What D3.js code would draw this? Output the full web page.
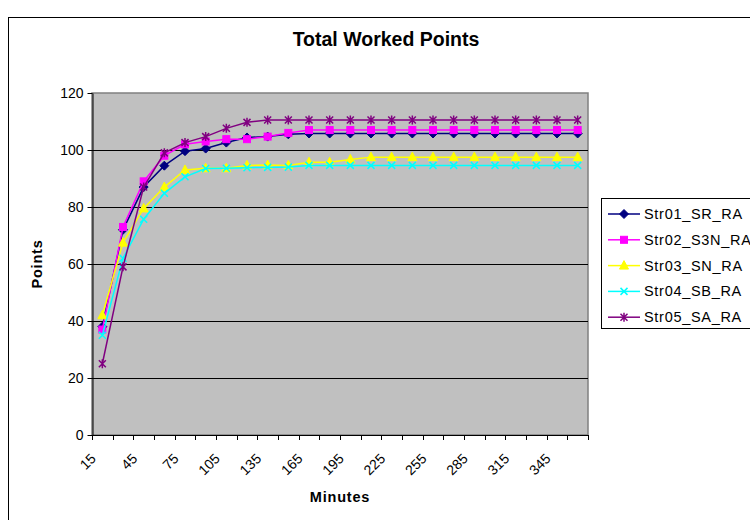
<!DOCTYPE html>
<html>
<head>
<meta charset="utf-8">
<script src="https://cdn.jsdelivr.net/npm/d3@7"></script>
<style>
  body { margin: 0; background: #fff; }
  text { font-family: "Liberation Sans", Arial, sans-serif; }
</style>
</head>
<body>
<svg id="chart" width="750" height="520"></svg>
<script>
var minutes = [15, 30, 45, 60, 75, 90, 105, 120, 135, 150, 165, 180,
  195, 210, 225, 240, 255, 270, 285, 300, 315, 330, 345, 360];
var yTicks = [0, 20, 40, 60, 80, 100, 120];

var str01 = [38, 72, 87, 94.5, 99.6, 100.5, 102.6, 104.4, 104.7, 105.5, 105.8, 105.8,
  105.8, 105.8, 105.8, 105.8, 105.8, 105.8, 105.8, 105.8, 105.8, 105.8, 105.8, 105.8];
var str02 = [37, 73, 89, 98, 102, 103, 103.8, 103.8, 104.7, 106, 107, 107,
  107, 107, 107, 107, 107, 107, 107, 107, 107, 107, 107, 107];
var str03 = [42, 67.5, 79.5, 87, 93, 93.6, 93.6, 94.6, 94.7, 94.6, 95.7, 95.7,
  96.7, 97.5, 97.5, 97.5, 97.5, 97.5, 97.5, 97.5, 97.5, 97.5, 97.5, 97.5];
var str04 = [35, 62, 75.7, 84.8, 90.6, 93.5, 93.6, 93.8, 93.9, 94, 94.6, 94.6,
  94.6, 94.6, 94.6, 94.6, 94.6, 94.6, 94.6, 94.6, 94.6, 94.6, 94.6, 94.6];
var str05 = [25, 59, 87, 99, 102.6, 104.7, 107.6, 109.7, 110.5, 110.5, 110.5, 110.5,
  110.5, 110.5, 110.5, 110.5, 110.5, 110.5, 110.5, 110.5, 110.5, 110.5, 110.5, 110.5];

var series = [
  { name: "Str01_SR_RA", values: str01, color: "#000080", marker: "diamond" },
  { name: "Str02_S3N_RA", values: str02, color: "#FF00FF", marker: "square" },
  { name: "Str03_SN_RA", values: str03, color: "#FFFF00", marker: "triangle" },
  { name: "Str04_SB_RA", values: str04, color: "#00FFFF", marker: "cross" },
  { name: "Str05_SA_RA", values: str05, color: "#800080", marker: "star" }
];

var svg = d3.select("#chart");
var plot = { left: 92, right: 588, top: 93, bottom: 435 };

// chart area border
svg.append("rect")
  .attr("x", 8.5).attr("y", 17.5)
  .attr("width", 760).attr("height", 520)
  .attr("fill", "#fff").attr("stroke", "#000");

var x = d3.scaleBand().domain(minutes).range([plot.left, plot.right]);
var y = d3.scaleLinear().domain([0, 120]).range([plot.bottom, plot.top]);

svg.append("rect")
  .attr("x", plot.left).attr("y", plot.top)
  .attr("width", plot.right - plot.left).attr("height", plot.bottom - plot.top)
  .attr("fill", "#C0C0C0").attr("stroke", "#808080").attr("stroke-width", 1.5);

// gridlines
svg.append("g").selectAll("line")
  .data(yTicks.filter(d => d > 0 && d < 120))
  .join("line")
  .attr("x1", plot.left).attr("x2", plot.right)
  .attr("y1", d => Math.round(y(d)) + 0.5).attr("y2", d => Math.round(y(d)) + 0.5)
  .attr("stroke", "#000").attr("stroke-width", 1);

// y axis
var yAxis = svg.append("g")
  .attr("transform", "translate(" + (plot.left + 0.5) + ",0)")
  .call(d3.axisLeft(y).tickValues(yTicks).tickSize(5).tickSizeOuter(0));
yAxis.select(".domain").attr("stroke", "#000");
yAxis.selectAll(".tick line").attr("stroke", "#000");
yAxis.selectAll(".tick text")
  .attr("font-size", 14).attr("fill", "#000").attr("x", -9)
  .style("font-family", "Liberation Sans, Arial, sans-serif");

// x axis (ticks between categories)
var xAxisG = svg.append("g");
xAxisG.append("line")
  .attr("x1", plot.left).attr("x2", plot.right)
  .attr("y1", plot.bottom + 0.5).attr("y2", plot.bottom + 0.5)
  .attr("stroke", "#000");
var edges = minutes.map(m => x(m)).concat([plot.right]);
xAxisG.selectAll(".xt")
  .data(edges)
  .join("line")
  .attr("x1", d => Math.round(d) + 0.5).attr("x2", d => Math.round(d) + 0.5)
  .attr("y1", plot.bottom).attr("y2", plot.bottom + 5)
  .attr("stroke", "#000");
xAxisG.selectAll(".xl")
  .data(minutes.filter((m, i) => i % 2 === 0))
  .join("text")
  .attr("transform", d => "translate(" + (x(d) + x.bandwidth() / 2 - 9) + "," + (plot.bottom + 21) + ") rotate(-45)")
  .attr("text-anchor", "end")
  .attr("dy", "0.35em")
  .attr("font-size", 14)
  .text(d => d);

// lines
var line = d3.line()
  .x((d, i) => x(minutes[i]) + x.bandwidth() / 2)
  .y(d => y(d));

function drawMarker(g, type, color) {
  if (type === "diamond") {
    g.append("path").attr("d", "M0,-4.5L4.5,0L0,4.5L-4.5,0Z").attr("fill", color).attr("stroke", color);
  } else if (type === "square") {
    g.append("rect").attr("x", -3.5).attr("y", -3.5).attr("width", 7).attr("height", 7)
      .attr("fill", color).attr("stroke", color);
  } else if (type === "triangle") {
    g.append("path").attr("d", "M0,-5L4.5,3.5L-4.5,3.5Z").attr("fill", color).attr("stroke", color);
  } else if (type === "cross") {
    g.append("path").attr("d", "M-3.5,-3.5L3.5,3.5M-3.5,3.5L3.5,-3.5")
      .attr("stroke", color).attr("stroke-width", 1.5).attr("fill", "none");
  } else if (type === "star") {
    g.append("path").attr("d", "M-3.5,-3.5L3.5,3.5M-3.5,3.5L3.5,-3.5M0,-4.5L0,4.5")
      .attr("stroke", color).attr("stroke-width", 1.5).attr("fill", "none");
  }
}

series.forEach(function (s) {
  var g = svg.append("g");
  g.append("path")
    .datum(s.values)
    .attr("d", line)
    .attr("fill", "none")
    .attr("stroke", s.color)
    .attr("stroke-width", 1.5);
  g.selectAll(".m")
    .data(s.values)
    .join("g")
    .attr("transform", (d, i) => "translate(" + (x(minutes[i]) + x.bandwidth() / 2) + "," + y(d) + ")")
    .each(function () { drawMarker(d3.select(this), s.marker, s.color); });
});

// title and axis titles
svg.append("text")
  .attr("x", 386).attr("y", 46)
  .attr("text-anchor", "middle")
  .attr("font-size", 19.5).attr("font-weight", "bold")
  .text("Total Worked Points");

svg.append("text")
  .attr("x", 340).attr("y", 502)
  .attr("text-anchor", "middle")
  .attr("font-size", 14.5).attr("font-weight", "bold")
  .attr("letter-spacing", 0.8)
  .text("Minutes");

svg.append("text")
  .attr("transform", "translate(42," + ((plot.top + plot.bottom) / 2) + ") rotate(-90)")
  .attr("text-anchor", "middle")
  .attr("font-size", 14.5).attr("font-weight", "bold")
  .attr("letter-spacing", 0.8)
  .text("Points");

// legend
var legend = svg.append("g");
legend.append("rect")
  .attr("x", 601.5).attr("y", 198.5)
  .attr("width", 160).attr("height", 130)
  .attr("fill", "#fff").attr("stroke", "#000");
series.forEach(function (s, i) {
  var ly = 214 + i * 25.8;
  legend.append("line")
    .attr("x1", 608).attr("x2", 640)
    .attr("y1", ly).attr("y2", ly)
    .attr("stroke", s.color).attr("stroke-width", 1.5);
  drawMarker(legend.append("g").attr("transform", "translate(624," + ly + ")"), s.marker, s.color);
  legend.append("text")
    .attr("x", 644).attr("y", ly)
    .attr("dy", "0.35em")
    .attr("font-size", 14.5)
    .attr("letter-spacing", 0.7)
    .text(s.name);
});
</script>
</body>
</html>
